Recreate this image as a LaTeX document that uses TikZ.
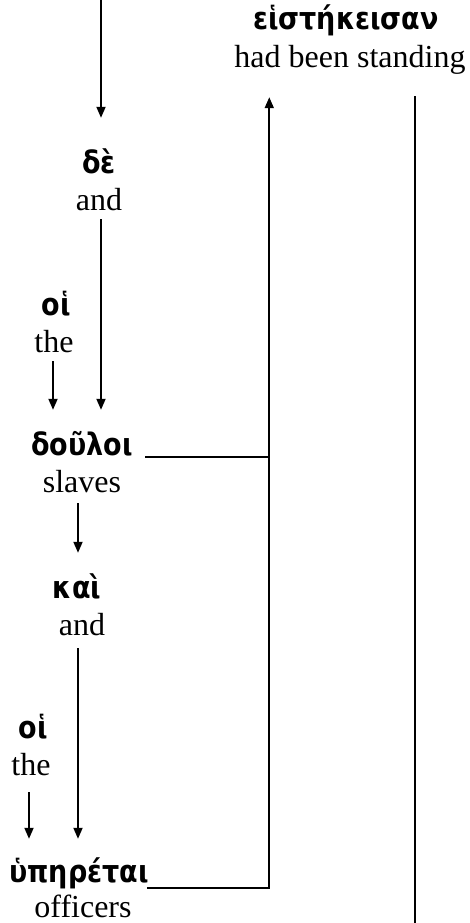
\documentclass[tikz,border=0pt]{standalone}
\usepackage{fontspec}
\setmainfont{Liberation Serif}
\newfontfamily\grk{DejaVu Sans}[FakeStretch=0.87]
\usetikzlibrary{arrows.meta}
\begin{document}
\begin{tikzpicture}[x=1pt,y=-1pt,
  gk/.style={font=\grk\bfseries\fontsize{31}{33}\selectfont, inner sep=0pt, anchor=base, text height=23pt, text depth=7pt},
  en/.style={font=\fontsize{32}{34}\selectfont, inner sep=0pt, anchor=base, text height=23pt, text depth=7pt},
  link/.style={line width=1.8pt},
  arr/.style={link, -{Triangle[length=11pt,width=9pt]}},
  gap/.style={shorten <=2pt, shorten >=22pt}]
\useasboundingbox (0,0) rectangle (469,923);
% verb
\node[gk] (verb) at (346,30) {εἱστήκεισαν};
\node[en] (verbEn) at (350,68) {had been standing};
% de
\node[gk] (de) at (99,173) {δὲ};
\node[en] (deEn) at (99,210) {and};
% oi 1
\node[gk] (oiA) at (56,315) {οἱ};
\node[en] (theA) at (54,352) {the};
% douloi
\node[gk] (doul) at (82,455) {δοῦλοι};
\node[en] (doulEn) at (82,492) {slaves};
% kai
\node[gk] (kai) at (77,598) {καὶ};
\node[en] (kaiEn) at (82,635) {and};
% oi 2
\node[gk] (oiB) at (33,738) {οἱ};
\node[en] (theB) at (31,775) {the};
% hyperetai
\node[gk] (hyp) at (79,882) {ὑπηρέται};
\node[en] (hypEn) at (83,917) {officers};
% connectors
\coordinate (topin) at (101,0);
\draw[arr, shorten >=32pt] (topin) -- (topin |- de.north);
\draw[arr, gap] ([xshift=2pt]deEn.south) -- ([xshift=2pt]deEn.south |- doul.north);
\draw[arr, gap] ([xshift=-1pt]theA.south) -- ([xshift=-1pt]theA.south |- doul.north);
\draw[arr, gap, shorten <=4pt] ([xshift=1pt]kai.north |- doulEn.south) -- ([xshift=1pt]kai.north);
\draw[arr, gap, shorten <=6pt, shorten >=20pt] ([xshift=-4pt]kaiEn.south) -- ([xshift=-4pt]kaiEn.south |- hyp.north);
\draw[arr, gap, shorten <=10pt, shorten >=20pt] ([xshift=-2pt]theB.south) -- ([xshift=-2pt]theB.south |- hyp.north);
% to verb
\coordinate (vtip) at ([xshift=35pt,yshift=-22pt]verbEn.south west);
\coordinate (hypR) at ([xshift=138pt,yshift=-6pt]hyp.base west);
\coordinate (doulR) at ([xshift=114pt,yshift=-1.7pt]doul.base west);
\draw[arr] (hypR) -| (vtip);
\draw[link] (doulR) -- (doulR -| vtip);
% onward from verb
\coordinate (vout) at ([xshift=-51pt,yshift=-21pt]verbEn.south east);
\draw[link] (vout) -- (vout |- 0,923);
\end{tikzpicture}
\end{document}
